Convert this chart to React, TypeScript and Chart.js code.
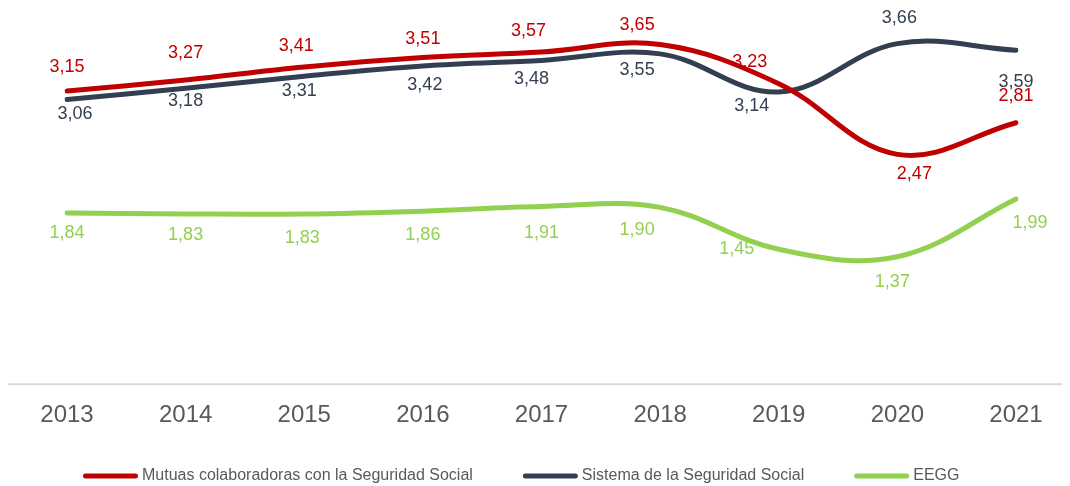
import React, { useEffect, useRef } from "react";
import { Chart, registerables } from "chart.js";

Chart.register(...registerables);

// ---- Data ----
const years = ["2013", "2014", "2015", "2016", "2017", "2018", "2019", "2020", "2021"];
const seriesNames = [
  "Mutuas colaboradoras con la Seguridad Social",
  "Sistema de la Seguridad Social",
  "EEGG",
];
const mutuas = [3.15, 3.27, 3.41, 3.51, 3.57, 3.65, 3.23, 2.47, 2.81];
const sistema = [3.06, 3.18, 3.31, 3.42, 3.48, 3.55, 3.14, 3.66, 3.59];
const eegg = [1.84, 1.83, 1.83, 1.86, 1.91, 1.9, 1.45, 1.37, 1.99];

// ---- Styles ----
const seriesColors = ["#C00000", "#333F50", "#92D050"];
const FONT = "'Liberation Sans', Arial, sans-serif";

// data label nudges (dx, dy) in px relative to each point
const mutuasLabelOffsets = [[0, -24], [0, -27], [-8, -21], [0, -19], [-13, -21], [-23, -20], [-29, -22], [17, 20], [0, -27]];
const sistemaLabelOffsets = [[8, 15], [0, 13], [-5, 15], [2, 19], [-10, 19], [-23, 16], [-27, 14], [2, -26], [0, 32]];
const eeggLabelOffsets = [[0, 20], [0, 21], [-2, 24], [0, 24], [0, 27], [-23, 23], [-42, 0], [-5, 25], [14, 24]];
const labelOffsets = [mutuasLabelOffsets, sistemaLabelOffsets, eeggLabelOffsets];

const baselinePlugin = {
  id: "baseline",
  beforeDatasetsDraw(chart: any) {
    const ctx = chart.ctx;
    const y = chart.chartArea.bottom;
    ctx.save();
    ctx.strokeStyle = "#D9D9D9";
    ctx.lineWidth = 2;
    ctx.beginPath();
    ctx.moveTo(8, y);
    ctx.lineTo(1062, y);
    ctx.stroke();
    ctx.restore();
  },
};

const labelsPlugin = {
  id: "valueLabels",
  afterDatasetsDraw(chart: any) {
    const ctx = chart.ctx;
    ctx.save();
    ctx.font = `18px ${FONT}`;
    ctx.textAlign = "center";
    ctx.textBaseline = "middle";
    chart.data.datasets.forEach((ds: any, di: number) => {
      const meta = chart.getDatasetMeta(di);
      ctx.fillStyle = seriesColors[di];
      meta.data.forEach((pt: any, i: number) => {
        const v = ds.data[i] as number;
        const [dx, dy] = labelOffsets[di][i];
        ctx.fillText(v.toFixed(2).replace(".", ","), pt.x + dx, pt.y + dy);
      });
    });
    ctx.restore();
  },
};

const legendPlugin = {
  id: "customLegend",
  afterDraw(chart: any) {
    const ctx = chart.ctx;
    ctx.save();
    ctx.font = `16px ${FONT}`;
    ctx.textBaseline = "middle";
    ctx.textAlign = "left";
    const y = 476;
    let x = 83;
    const lineLen = 55;
    chart.data.datasets.forEach((ds: any, di: number) => {
      ctx.strokeStyle = seriesColors[di];
      ctx.lineWidth = 5;
      ctx.lineCap = "round";
      ctx.beginPath();
      ctx.moveTo(x + 2.5, y);
      ctx.lineTo(x + lineLen - 2.5, y);
      ctx.stroke();
      ctx.fillStyle = "#595959";
      const tx = x + lineLen + 4;
      ctx.fillText(ds.label, tx, y);
      x = tx + ctx.measureText(ds.label).width + 50;
    });
    ctx.restore();
  },
};

export default function App() {
  const canvasRef = useRef<HTMLCanvasElement | null>(null);

  useEffect(() => {
    if (!canvasRef.current) return;
    const seriesValues = [mutuas, sistema, eegg];
    const chart = new Chart(canvasRef.current, {
      type: "line",
      data: {
        labels: years,
        datasets: seriesValues.map((vals, i) => ({
          label: seriesNames[i],
          data: vals,
          borderColor: seriesColors[i],
          backgroundColor: seriesColors[i],
          borderWidth: 5,
          borderCapStyle: "round",
          borderJoinStyle: "round",
          pointRadius: 0,
          pointHoverRadius: 0,
          tension: 0.38,
          fill: false,
        })),
      },
      options: {
        responsive: false,
        animation: false,
        devicePixelRatio: 1,
        layout: { padding: { left: 67, right: 54, top: 12, bottom: 39 } },
        plugins: {
          legend: { display: false },
          tooltip: { enabled: false },
          title: { display: false },
        },
        scales: {
          x: {
            type: "category",
            offset: false,
            grid: { display: false, drawTicks: false },
            border: { display: false },
            ticks: {
              color: "#595959",
              font: { size: 24, family: FONT },
              padding: 17,
              maxRotation: 0,
              autoSkip: false,
            },
          },
          y: {
            display: false,
            min: 0,
            max: 4,
          },
        },
      },
      plugins: [baselinePlugin, labelsPlugin, legendPlugin],
    });
    return () => chart.destroy();
  }, []);

  return (
    <div style={{ position: "fixed", left: 0, top: 0, width: 1070, height: 486, background: "#fff" }}>
      <canvas ref={canvasRef} width={1070} height={486} style={{ display: "block", width: 1070, height: 486 }} />
    </div>
  );
}
